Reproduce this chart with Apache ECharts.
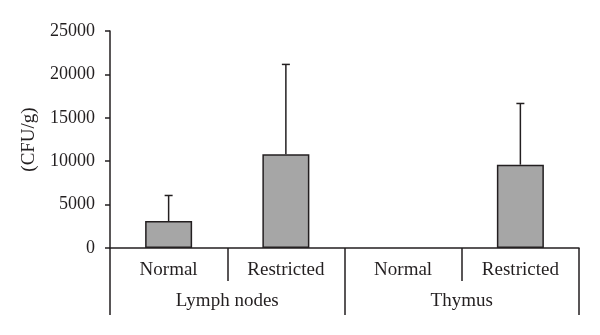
<!DOCTYPE html>
<html>
<head>
<meta charset="utf-8">
<script src="https://cdn.jsdelivr.net/npm/echarts@6/dist/echarts.min.js"></script>
<style>
  html, body { margin: 0; padding: 0; background: #fff; }
  #chart { width: 600px; height: 335px; }
</style>
</head>
<body>
<div id="chart"></div>
<script>
const subCategories = ['Normal', 'Restricted', 'Normal', 'Restricted']
const groups = ['Lymph nodes', 'Thymus']
const means = [3100, 10800, '-', 9600]
const upperErr = [6050, 21150, null, 16650]
const yTicks = { min: 0, max: 25000, interval: 5000 }

const ink = '#231f20'
const font = '"Liberation Serif", "DejaVu Serif", serif'

const chart = echarts.init(document.getElementById('chart'))

const errData = means.map((m, i) => [i, m === '-' ? 0 : m, upperErr[i] == null ? '-' : upperErr[i]])

const option = {
  animation: false,
  grid: { left: 110, right: 21, top: 31, bottom: 87 },
  xAxis: [
    {
      type: 'category',
      data: subCategories,
      axisLine: { lineStyle: { color: ink, width: 1.5 } },
      axisTick: { show: true, length: 33, lineStyle: { color: ink, width: 1.5 } },
      axisLabel: { color: ink, fontFamily: font, fontSize: 19, margin: 13 },
    },
    {
      type: 'category',
      data: groups,
      position: 'bottom',
      axisLine: { show: false },
      axisTick: { show: true, length: 67, lineStyle: { color: ink, width: 1.5 } },
      axisLabel: { color: ink, fontFamily: font, fontSize: 19, margin: 44 },
    },
  ],
  yAxis: {
    type: 'value',
    min: yTicks.min,
    max: yTicks.max,
    interval: yTicks.interval,
    name: '(CFU/g)',
    nameLocation: 'middle',
    nameRotate: 90,
    nameGap: 71,
    nameTextStyle: { color: ink, fontFamily: font, fontSize: 19 },
    axisLine: { show: true, lineStyle: { color: ink, width: 1.5 } },
    axisTick: { show: true, length: 5, lineStyle: { color: ink, width: 1.5 } },
    axisLabel: {
      color: ink, fontFamily: font, fontSize: 18, margin: 15,
      formatter: function (v) { return String(v) },
    },
    splitLine: { show: false },
  },
  series: [
    {
      type: 'bar',
      data: means,
      barWidth: 47,
      itemStyle: { color: '#a6a6a6', borderColor: ink, borderWidth: 1.5 },
      z: 2,
    },
    {
      type: 'custom',
      data: errData,
      z: 3,
      renderItem: function (params, api) {
        const hi = api.value(2)
        if (hi == null || isNaN(hi)) return null
        const base = api.coord([api.value(0), api.value(1)])
        const top = api.coord([api.value(0), hi])
        const style = { stroke: ink, lineWidth: 1.5 }
        return {
          type: 'group',
          children: [
            { type: 'line', shape: { x1: top[0], y1: base[1], x2: top[0], y2: top[1] }, style: style },
            { type: 'line', shape: { x1: top[0] - 4, y1: top[1], x2: top[0] + 4, y2: top[1] }, style: style },
          ],
        }
      },
    },
  ],
}

chart.setOption(option)
</script>
</body>
</html>
